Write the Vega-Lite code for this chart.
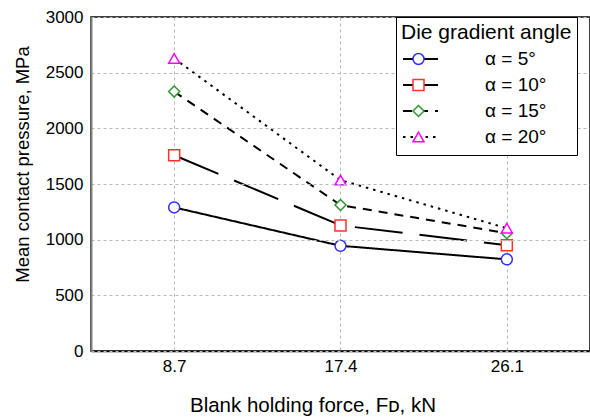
{
  "$schema": "https://vega.github.io/schema/vega-lite/v6.json",
  "width": 499,
  "height": 334,
  "autosize": {"type": "none"},
  "padding": {"left": 91, "top": 17, "right": 0, "bottom": 68},
  "background": "white",
  "config": {
    "font": "Liberation Sans",
    "view": {"stroke": "black", "strokeWidth": 1.5},
    "axis": {
      "labelFont": "Liberation Sans",
      "labelFontSize": 17,
      "labelColor": "black",
      "titleFont": "Liberation Sans",
      "titleFontWeight": "normal",
      "titleColor": "black",
      "ticks": false,
      "gridColor": "#b8b8b8",
      "gridDash": [3, 3],
      "gridWidth": 1
    },
    "legend": {
      "titleFont": "Liberation Sans",
      "titleFontWeight": "normal",
      "titleColor": "black",
      "labelFont": "Liberation Sans",
      "labelColor": "black"
    }
  },
  "data": {
    "values": [
      {"force": 8.7, "pressure": 1290, "deg": 5, "alpha": "α = 5°"},
      {"force": 17.4, "pressure": 945, "deg": 5, "alpha": "α = 5°"},
      {"force": 26.1, "pressure": 823, "deg": 5, "alpha": "α = 5°"},
      {"force": 8.7, "pressure": 1758, "deg": 10, "alpha": "α = 10°"},
      {"force": 17.4, "pressure": 1128, "deg": 10, "alpha": "α = 10°"},
      {"force": 26.1, "pressure": 950, "deg": 10, "alpha": "α = 10°"},
      {"force": 8.7, "pressure": 2330, "deg": 15, "alpha": "α = 15°"},
      {"force": 17.4, "pressure": 1311, "deg": 15, "alpha": "α = 15°"},
      {"force": 26.1, "pressure": 1058, "deg": 15, "alpha": "α = 15°"},
      {"force": 8.7, "pressure": 2628, "deg": 20, "alpha": "α = 20°"},
      {"force": 17.4, "pressure": 1535, "deg": 20, "alpha": "α = 20°"},
      {"force": 26.1, "pressure": 1103, "deg": 20, "alpha": "α = 20°"}
    ]
  },
  "encoding": {
    "x": {
      "field": "force",
      "type": "quantitative",
      "scale": {"domain": [4.35, 30.45], "nice": false, "zero": false},
      "axis": {
        "values": [8.7, 17.4, 26.1],
        "format": ".1f",
        "labelPadding": 7,
        "domainColor": "black",
        "domainWidth": 1.5,
        "title": "Blank holding force, Fᴅ, kN",
        "titleFontSize": 20.5,
        "titleX": 221.5,
        "titleY": 60,
        "titleAlign": "center",
        "titleBaseline": "alphabetic"
      }
    },
    "y": {
      "field": "pressure",
      "type": "quantitative",
      "scale": {"domain": [0, 3000], "nice": false},
      "axis": {
        "values": [0, 500, 1000, 1500, 2000, 2500, 3000],
        "format": "d",
        "labelPadding": 8,
        "domainColor": "#808080",
        "domainWidth": 2,
        "zindex": 1,
        "title": "Mean contact pressure, MPa",
        "titleFontSize": 18.5,
        "titleAngle": -90,
        "titleX": -63,
        "titleY": 147,
        "titleAlign": "center",
        "titleBaseline": "alphabetic"
      }
    }
  },
  "layer": [
    {
      "mark": {"type": "line", "color": "black", "strokeWidth": 2},
      "encoding": {
        "strokeDash": {
          "field": "deg",
          "type": "nominal",
          "scale": {"domain": [5, 10, 15, 20], "range": [[1, 0], [48, 17], [9, 7], [2.5, 5]]},
          "legend": {
            "orient": "none",
            "legendX": 305,
            "legendY": 0,
            "zindex": 1,
            "title": "Die gradient angle",
            "titleFontSize": 21,
            "titleFontWeight": "normal",
            "titlePadding": 3,
            "padding": 5,
            "strokeColor": "black",
            "fillColor": "white",
            "symbolType": "stroke",
            "symbolSize": 1225,
            "symbolStrokeWidth": 2,
            "symbolStrokeColor": "black",
            "symbolOffset": 1,
            "labelExpr": "''",
            "labelFontSize": 19,
            "clipHeight": 26,
            "rowPadding": 0
          }
        }
      }
    },
    {
      "mark": {"type": "point", "filled": true, "fill": "white", "opacity": 1, "strokeWidth": 1.5, "size": 121},
      "encoding": {
        "shape": {
          "field": "alpha",
          "type": "nominal",
          "scale": {"domain": ["α = 5°", "α = 10°", "α = 15°", "α = 20°"], "range": ["circle", "square", "diamond", "triangle-up"]},
          "legend": {
            "orient": "none",
            "legendX": 305,
            "legendY": 0,
            "zindex": 2,
            "title": "Die gradient angle",
            "titleFontSize": 21,
            "titleFontWeight": "normal",
            "titlePadding": 3,
            "titleColor": "rgba(0,0,0,0)",
            "titleOpacity": 0,
            "padding": 5,
            "symbolSize": 121,
            "symbolStrokeWidth": 1.5,
            "symbolFillColor": "white",
            "symbolOffset": 8,
            "labelFontSize": 19,
            "labelOffset": 57,
            "clipHeight": 26,
            "rowPadding": 0
          }
        },
        "stroke": {
          "field": "alpha",
          "type": "nominal",
          "scale": {"domain": ["α = 5°", "α = 10°", "α = 15°", "α = 20°"], "range": ["#3030ff", "#ff3030", "#2e962e", "#ff00ff"]},
          "legend": {
            "orient": "none",
            "legendX": 305,
            "legendY": 0,
            "zindex": 2,
            "title": "Die gradient angle",
            "titleFontSize": 21,
            "titleFontWeight": "normal",
            "titlePadding": 3,
            "titleColor": "rgba(0,0,0,0)",
            "titleOpacity": 0,
            "padding": 5,
            "symbolSize": 121,
            "symbolStrokeWidth": 1.5,
            "symbolFillColor": "white",
            "symbolOffset": 8,
            "labelFontSize": 19,
            "labelOffset": 57,
            "clipHeight": 26,
            "rowPadding": 0
          }
        }
      }
    }
  ]
}
